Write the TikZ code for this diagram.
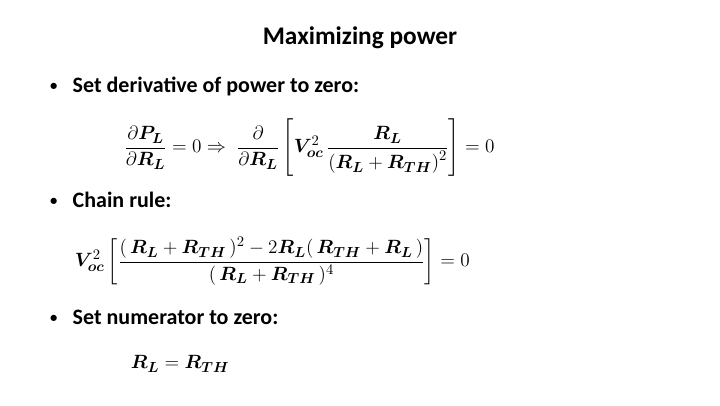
\documentclass[tikz,border=0pt]{standalone}
\usepackage{amsmath,bm}
\usepackage{fontspec}
\setmainfont{Carlito}
\newcommand{\bv}[1]{\bm{#1}}
\newcommand{\bl}{\raisebox{0.1em}{\fontsize{11}{12}\selectfont\textbullet}\hspace{0.7em}}
\begin{document}
\begin{tikzpicture}[x=1pt,y=-1pt,
  title/.style={font=\fontsize{19}{23}\selectfont\bfseries,anchor=center},
  bul/.style={font=\fontsize{16.5}{20}\selectfont\bfseries,anchor=west},
  eq/.style={font=\fontsize{15}{18}\selectfont,anchor=west,inner sep=0}]
\useasboundingbox (0,0) rectangle (540,303.75);
\node[title] (t) at (270,28) {Maximizing power};
\node[bul] (b1) at (34,65) {\bl Set derivative of power to zero:};
\node[eq] (e1) at (93,111) {$\dfrac{\partial \bv{P}_{\bv{L}}}{\partial \bv{R}_{\bv{L}}}=0\Rightarrow\;
 \dfrac{\partial}{\partial \bv{R}_{\bv{L}}}\left[\bv{V}_{\bv{oc}}^{2}\,\dfrac{\bv{R}_{\bv{L}}}{\left(\bv{R}_{\bv{L}}+\bv{R}_{\bv{TH}}\right)^{2}}\right]=0$};
\node[bul] (b2) at (34,150) {\bl Chain rule:};
\node[eq] (e2) at (56,196) {$\bv{V}_{\bv{oc}}^{2}\left[\dfrac{(\,\bv{R}_{\bv{L}}+\bv{R}_{\bv{TH}}\,)^{2}-2\bv{R}_{\bv{L}}(\,\bv{R}_{\bv{TH}}+\bv{R}_{\bv{L}}\,)}{(\,\bv{R}_{\bv{L}}+\bv{R}_{\bv{TH}}\,)^{4}}\right]=0$};
\node[bul] (b3) at (34,238) {\bl Set numerator to zero:};
\node[eq] (e3) at (98,273) {$\bv{R}_{\bv{L}}=\bv{R}_{\bv{TH}}$};
\end{tikzpicture}
\end{document}
